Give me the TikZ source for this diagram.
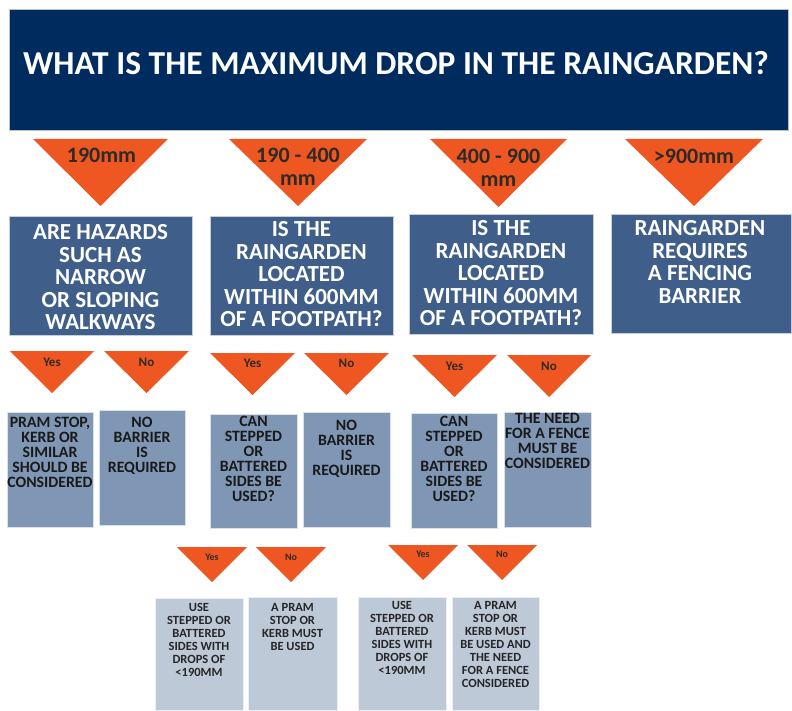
\documentclass[tikz,border=0pt]{standalone}
\usepackage{fontspec}
\setmainfont{Carlito}
\usepackage{xcolor}
\usepackage{tikz}
\usetikzlibrary{positioning}

\definecolor{headNavy}{HTML}{002B5F}
\definecolor{qBlue}{HTML}{3F5F8A}
\definecolor{aBlue}{HTML}{7F97B5}
\definecolor{cBlue}{HTML}{BDC9D7}
\definecolor{dropOrange}{HTML}{EF5722}
\definecolor{dropInk}{HTML}{2E2A26}

\begin{document}
\begin{tikzpicture}[x=1pt, y=-1pt]
        \tikzset{
            every node/.style={
                inner sep=0pt,
                align=center,
            },
            headbox/.style={fill=headNavy, draw=gray!50, line width=.5pt, anchor=north west},
            qbox/.style={fill=qBlue, draw=white!70!qBlue, line width=.6pt, anchor=north west},
            abox/.style={fill=aBlue, draw=white!70!aBlue, line width=.5pt, anchor=north west},
            cbox/.style={fill=cBlue, draw=white!70!cBlue, line width=.5pt, anchor=north west},
            drop/.style={fill=dropOrange},
            headtext/.style={text=white, font=\bfseries\fontsize{33.5}{36}\selectfont},
            qtext/.style={text=white, anchor=north, font=\bfseries\fontsize{23}{22.5}\selectfont},
            atext/.style={text=black!90, anchor=north, font=\bfseries\fontsize{15.8}{15}\selectfont},
            ctext/.style={text=black!85, anchor=north, font=\bfseries\fontsize{12.5}{13}\selectfont},
            droptext/.style={text=dropInk, anchor=north, font=\bfseries\fontsize{22}{23}\selectfont},
            yntext/.style={text=dropInk, font=\bfseries\fontsize{13}{14}\selectfont},
            smallyn/.style={text=dropInk, font=\bfseries\fontsize{10}{11}\selectfont},
        }
        \useasboundingbox (0,0) rectangle (792,711);

        % title
        \node[headbox, minimum width=779pt, minimum height=121pt] (head) at (9,9) {};
        \node[headtext] (headt) at (396,63) {WHAT IS THE MAXIMUM DROP IN THE RAINGARDEN?};

        % drop ranges
        \fill[drop] (33,139) -- (168,139) -- (100.5,206) -- cycle;
        \fill[drop] (229,139) -- (367,139) -- (298,206) -- cycle;
        \fill[drop] (430,139) -- (567,139) -- (498.5,207) -- cycle;
        \fill[drop] (625,139) -- (763,139) -- (694,206) -- cycle;
        \node[droptext] (d190) at (101.5,147.5) {190mm};
        \node[droptext] (d400) at (298,147.5) {190 - 400\\mm};
        \node[droptext] (d900) at (498.5,148.5) {400 - 900\\mm};
        \node[droptext] (dmax) at (694,148.5) {>900mm};

        % first questions
        \node[qbox, minimum width=183pt, minimum height=119pt] (hazard) at (9,216) {};
        \node[qbox, minimum width=183pt, minimum height=119pt] (pathA) at (210,216) {};
        \node[qbox, minimum width=184pt, minimum height=120pt] (pathB) at (409,214) {};
        \node[qbox, minimum width=180pt, minimum height=119pt] (fence) at (611,214) {};
        \node[qtext] (hazardt) at (100.5,224.5) {ARE HAZARDS\\SUCH AS\\NARROW\\OR SLOPING\\WALKWAYS};
        \node[qtext] (pathAt) at (301.5,221.5) {IS THE\\RAINGARDEN\\LOCATED\\WITHIN 600MM\\OF A FOOTPATH?};
        \node[qtext] (pathBt) at (501,220.5) {IS THE\\RAINGARDEN\\LOCATED\\WITHIN 600MM\\OF A FOOTPATH?};
        \node[qtext] (fencet) at (700,220.5) {RAINGARDEN\\REQUIRES\\A FENCING\\BARRIER};

        % yes / no
        \fill[drop] (10,351) -- (94,351) -- (52,393) -- cycle;
        \fill[drop] (104,351) -- (189,351) -- (146.5,393) -- cycle;
        \fill[drop] (210,353) -- (295,353) -- (252.5,395) -- cycle;
        \fill[drop] (304,353) -- (389,353) -- (346.5,395) -- cycle;
        \fill[drop] (412,355) -- (497,355) -- (454.5,397) -- cycle;
        \fill[drop] (507,355) -- (591,355) -- (549,397) -- cycle;
        \node[yntext] (yesA) at (52,362) {Yes};
        \node[yntext] (noA) at (146.5,362) {No};
        \node[yntext] (yesB) at (252.5,363) {Yes};
        \node[yntext] (noB) at (346.5,363) {No};
        \node[yntext] (yesC) at (454.5,366) {Yes};
        \node[yntext] (noC) at (549,366) {No};

        % answers
        \node[abox, minimum width=86pt, minimum height=115pt] (pram) at (7,412) {};
        \node[abox, minimum width=86pt, minimum height=115pt] (nobarA) at (99,410) {};
        \node[abox, minimum width=87pt, minimum height=114pt] (stepA) at (210,414) {};
        \node[abox, minimum width=87pt, minimum height=115pt] (nobarB) at (303,412) {};
        \node[abox, minimum width=86pt, minimum height=115pt] (stepB) at (411,413) {};
        \node[abox, minimum width=87pt, minimum height=115pt] (needfence) at (504,412) {};
        \node[atext] (pramt) at (50,416.5) {PRAM STOP,\\KERB OR\\SIMILAR\\SHOULD BE\\CONSIDERED};
        \node[atext] (nobarAt) at (142,416.5) {NO\\BARRIER\\IS\\REQUIRED};
        \node[atext] (stepAt) at (253.5,416) {CAN\\STEPPED\\OR\\BATTERED\\SIDES BE\\USED?};
        \node[atext] (nobarBt) at (346.5,419.5) {NO\\BARRIER\\IS\\REQUIRED};
        \node[atext] (stepBt) at (454,415.5) {CAN\\STEPPED\\OR\\BATTERED\\SIDES BE\\USED?};
        \node[atext] (needfencet) at (547.5,413.5) {THE NEED\\FOR A FENCE\\MUST BE\\CONSIDERED};

        % stepped sides?
        \fill[drop] (177,547) -- (247,547) -- (212,582) -- cycle;
        \fill[drop] (256,547) -- (326,547) -- (291,582) -- cycle;
        \fill[drop] (388,545) -- (458,545) -- (423,580) -- cycle;
        \fill[drop] (467,545) -- (537,545) -- (502,580) -- cycle;
        \node[smallyn] (yesD) at (212,557) {Yes};
        \node[smallyn] (noD) at (291,557) {No};
        \node[smallyn] (yesE) at (423,554) {Yes};
        \node[smallyn] (noE) at (502,554) {No};

        \node[cbox, minimum width=88pt, minimum height=112pt] (useA) at (155,598) {};
        \node[cbox, minimum width=89pt, minimum height=113pt] (kerbA) at (248,597) {};
        \node[cbox, minimum width=88pt, minimum height=113pt] (useB) at (358,597) {};
        \node[cbox, minimum width=87pt, minimum height=113pt] (kerbB) at (452,597) {};
        \node[ctext] (useAt) at (199,603.5) {USE\\STEPPED OR\\BATTERED\\SIDES WITH\\DROPS OF\\<190MM};
        \node[ctext] (kerbAt) at (292.5,603.5) {A PRAM\\STOP OR\\KERB MUST\\BE USED};
        \node[ctext] (useBt) at (402,601.5) {USE\\STEPPED OR\\BATTERED\\SIDES WITH\\DROPS OF\\<190MM};
        \node[ctext] (kerbBt) at (495.5,601.5) {A PRAM\\STOP OR\\KERB MUST\\BE USED AND\\THE NEED\\FOR A FENCE\\CONSIDERED};
    \end{tikzpicture}
\end{document}
